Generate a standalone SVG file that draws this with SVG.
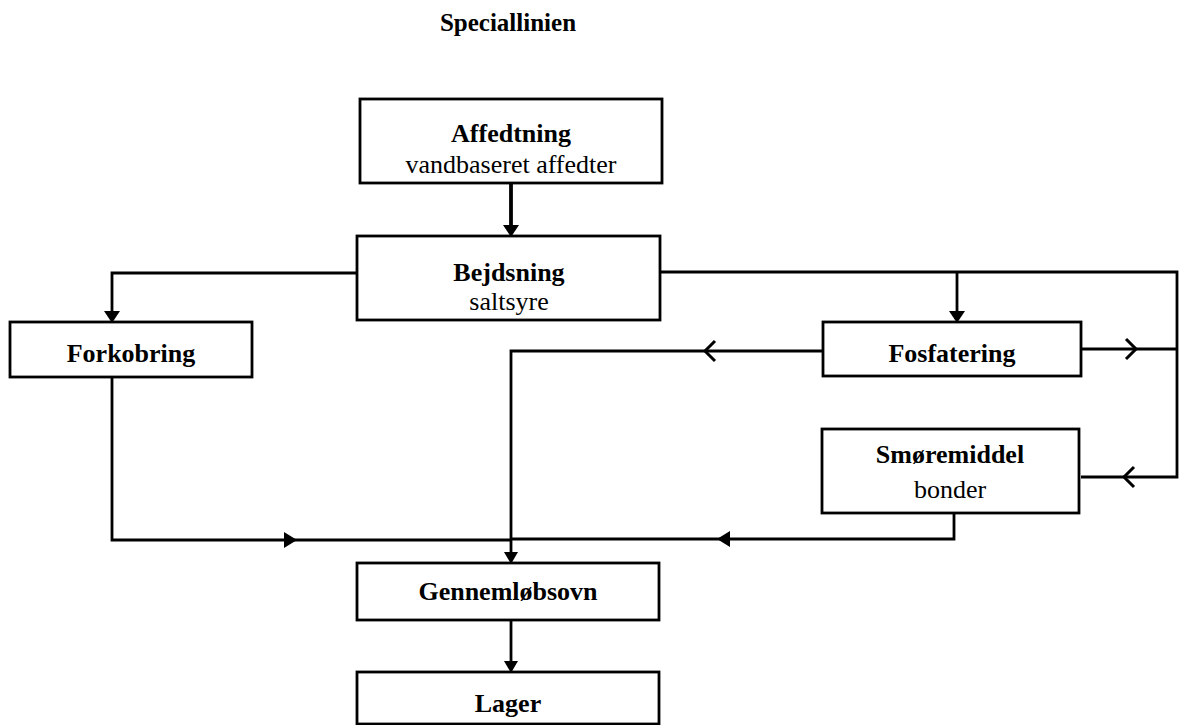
<svg xmlns="http://www.w3.org/2000/svg" width="1181" height="725" viewBox="0 0 1181 725">
<style>
.box{fill:#fff;stroke:#000;stroke-width:2.8}
.b{font-family:"Liberation Serif","Times New Roman",serif;font-weight:bold;font-size:26px;text-anchor:middle;fill:#000}
.r{font-family:"Liberation Serif","Times New Roman",serif;font-size:26px;text-anchor:middle;fill:#000}
.ln{fill:none;stroke:#000;stroke-width:2.8}
.ch{fill:none;stroke:#000;stroke-width:3;stroke-linejoin:miter}
.ah{fill:#000}
</style>
<rect width="1181" height="725" fill="#fff"/>
<text class="b" x="508" y="31" style="font-size:25px">Speciallinien</text>
<g id="connectors">
<path class="ln" d="M511,183 V232" style="stroke-width:3.8"/>
<polygon class="ah" points="503,225 519,225 511,237"/>
<path class="ln" d="M357,273 H112 V318"/>
<polygon class="ah" points="104,311 120,311 112,323"/>
<path class="ln" d="M660,272 H1177 V477 H1081"/>
<path class="ch" d="M1134,467 L1124,477 L1134,487"/>
<path class="ln" d="M957,272 V318"/>
<polygon class="ah" points="949,311 965,311 957,323"/>
<path class="ln" d="M1081,349 H1177"/>
<path class="ch" d="M1126,339 L1136,349 L1126,359"/>
<path class="ln" d="M823,351 H511 V558"/>
<path class="ch" d="M715,341 L705,351 L715,361"/>
<polygon class="ah" points="504,552 518,552 511,564"/>
<path class="ln" d="M112,377 V540 H511"/>
<polygon class="ah" points="284,532 297,540 284,548"/>
<path class="ln" d="M954,513 V539 H511"/>
<polygon class="ah" points="730,531 717,539 730,547"/>
<path class="ln" d="M511,620 V667"/>
<polygon class="ah" points="504,661 518,661 511,673"/>
</g>
<g id="affedtning">
<rect class="box" x="360" y="99" width="302" height="84"/>
<text class="b" x="511" y="142">Affedtning</text>
<text class="r" x="511" y="173">vandbaseret affedter</text>
</g>
<g id="bejdsning">
<rect class="box" x="357" y="236" width="303" height="84"/>
<text class="b" x="509" y="281">Bejdsning</text>
<text class="r" x="509" y="310">saltsyre</text>
</g>
<g id="forkobring">
<rect class="box" x="10" y="322" width="242" height="55"/>
<text class="b" x="131" y="362">Forkobring</text>
</g>
<g id="fosfatering">
<rect class="box" x="823" y="322" width="258" height="54"/>
<text class="b" x="952" y="362">Fosfatering</text>
</g>
<g id="smoeremiddel">
<rect class="box" x="822" y="429" width="257" height="84"/>
<text class="b" x="950" y="463">Smøremiddel</text>
<text class="r" x="950" y="498">bonder</text>
</g>
<g id="gennemloebsovn">
<rect class="box" x="357" y="563" width="302" height="57"/>
<text class="b" x="508" y="600">Gennemløbsovn</text>
</g>
<g id="lager">
<rect class="box" x="357" y="672" width="302" height="52"/>
<text class="b" x="508" y="712">Lager</text>
</g>
</svg>
